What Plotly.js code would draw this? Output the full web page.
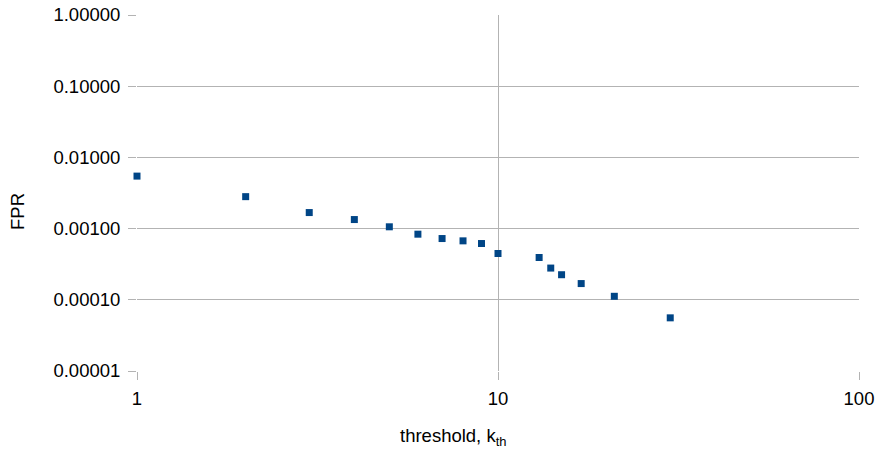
<!DOCTYPE html>
<html><head><meta charset="utf-8">
<script src="https://cdn.plot.ly/plotly-3.0.1.min.js"></script>
<style>body{margin:0;background:#fff}#c{width:877px;height:453px}</style>
</head><body><div id="c"></div>
<script>
const thresholds = [1, 2, 3, 4, 5, 6, 7, 8, 9, 10, 13, 14, 15, 17, 21, 30];
const fpr = [0.00546, 0.00281, 0.00168, 0.00134, 0.00106, 0.000835, 0.000725, 0.000673, 0.000617, 0.000447, 0.000393, 0.000279, 0.000225, 0.000169, 0.000112, 0.0000558];
const yTicks = [1, 0.1, 0.01, 0.001, 0.0001, 0.00001];
const yTickText = ["1.00000", "0.10000", "0.01000", "0.00100", "0.00010", "0.00001"];
const xTicks = [1, 10, 100];
const xTickText = ["1", "10", "100"];
const xTitle = "threshold, k<sub>th</sub>";
const yTitle = "FPR";

const fam = "Liberation Sans, Arial, sans-serif";
Plotly.newPlot("c", [{
  x: thresholds, y: fpr, type: "scatter", mode: "markers", cliponaxis: false,
  marker: {symbol: "square", size: 7, color: "#004586"}
}], {
  width: 877, height: 453,
  margin: {l: 137, r: 18, t: 15, b: 82},
  paper_bgcolor: "#fff", plot_bgcolor: "#fff",
  showlegend: false,
  font: {family: fam, color: "#000"},
  xaxis: {
    type: "log", range: [0, 2],
    tickvals: xTicks, ticktext: xTickText,
    ticks: "outside", ticklen: 8, tickcolor: "#b3b3b3",
    ticklabelstandoff: 3,
    showgrid: true, gridcolor: "#b3b3b3", gridwidth: 1,
    zeroline: false, showline: false,
    tickfont: {size: 18.5, family: fam, color: "#000"}
  },
  yaxis: {
    type: "log", range: [-5, 0],
    tickvals: yTicks, ticktext: yTickText,
    ticks: "outside", ticklen: 8, tickcolor: "#b3b3b3",
    ticklabelstandoff: 4,
    showgrid: true, gridcolor: "#b3b3b3", gridwidth: 1,
    zeroline: false, showline: false,
    tickfont: {size: 18.5, family: fam, color: "#000"}
  },
  annotations: [
    {text: xTitle, xref: "paper", yref: "paper", x: 0.3615, y: -0.145,
     xanchor: "left", yanchor: "top", showarrow: false,
     font: {size: 18.5, family: fam, color: "#000"}},
    {text: yTitle, xref: "paper", yref: "paper", x: -0.1662, y: 0.4466,
     xanchor: "center", yanchor: "middle", textangle: -90, showarrow: false,
     font: {size: 18.5, family: fam, color: "#000"}}
  ]
}, {displayModeBar: false, staticPlot: true});
</script></body></html>
